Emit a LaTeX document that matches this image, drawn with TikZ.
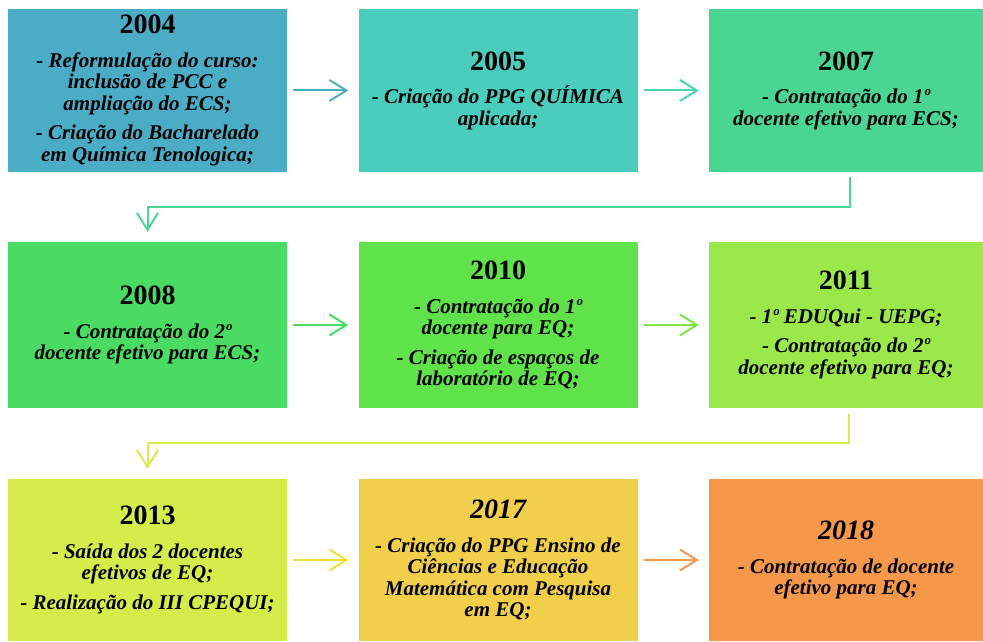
\documentclass[tikz,border=0pt]{standalone}
\usepackage{fontspec}
\setmainfont{Liberation Serif}
\usetikzlibrary{arrows.meta}

\begin{document}
\begin{tikzpicture}[x=1pt, y=1pt,
    card/.style={rectangle, minimum width=279pt, inner sep=0pt,
        text width=274pt, align=flush center,
        font=\bfseries\itshape\fontsize{21}{21.5}\selectfont},
    link/.style={line width=2pt, -{Straight Barb[length=17pt, width=21pt]}}
]
    % Definitions
    \definecolor{tone-2004}{RGB}{75, 172, 198}
    \definecolor{tone-2005}{RGB}{75, 205, 190}
    \definecolor{tone-2007}{RGB}{74, 214, 146}
    \definecolor{tone-2008}{RGB}{74, 220, 98}
    \definecolor{tone-2010}{RGB}{96, 226, 74}
    \definecolor{tone-2011}{RGB}{155, 232, 74}
    \definecolor{tone-2013}{RGB}{213, 236, 74}
    \definecolor{tone-2017}{RGB}{242, 207, 74}
    \definecolor{tone-2018}{RGB}{246, 152, 74}

    \newcommand{\yearup}[1]{{\upshape\fontsize{28}{30}\selectfont #1}}
    \newcommand{\yearit}[1]{{\fontsize{28}{30}\selectfont #1}}

    \useasboundingbox (0,0) rectangle (983,641);

    % Row 1
    \node[card, fill=tone-2004, minimum height=163pt] (y2004)
        at (147.5,550.5) {\yearup{2004}\\[12pt]
        - Reformulação do curso:\\ inclusão de PCC e\\ ampliação do ECS;\\[8pt]
        - Criação do Bacharelado\\ em Química Tenologica;};
    \node[card, fill=tone-2005, minimum height=163pt] (y2005)
        at (498,550.5) {\yearup{2005}\\[12pt]
        - Criação do PPG QUÍMICA\\ aplicada;};
    \node[card, fill=tone-2007, minimum width=274pt,
          minimum height=163pt] (y2007)
        at (846,550.5) {\yearup{2007}\\[12pt]
        - Contratação do 1º\\ docente efetivo para ECS;};

    % Row 2
    \node[card, fill=tone-2008, minimum height=166pt] (y2008)
        at (147.5,316) {\yearup{2008}\\[12pt]
        - Contratação do 2º\\ docente efetivo para ECS;};
    \node[card, fill=tone-2010, minimum height=166pt] (y2010)
        at (498,316) {\yearup{2010}\\[12pt]
        - Contratação do 1º\\ docente para EQ;\\[8pt]
        - Criação de espaços de\\ laboratório de EQ;};
    \node[card, fill=tone-2011, minimum width=274pt,
          minimum height=166pt] (y2011)
        at (846,316) {\yearup{2011}\\[12pt]
        - 1º EDUQui - UEPG;\\[8pt]
        - Contratação do 2º\\ docente efetivo para EQ;};

    % Row 3
    \node[card, fill=tone-2013, minimum height=162pt] (y2013)
        at (147.5,81) {\yearup{2013}\\[12pt]
        - Saída dos 2 docentes\\ efetivos de EQ;\\[8pt]
        - Realização do III CPEQUI;};
    \node[card, fill=tone-2017, minimum height=162pt] (y2017)
        at (498,81) {\yearit{2017}\\[12pt]
        - Criação do PPG Ensino de\\ Ciências e Educação\\
        Matemática com Pesquisa\\ em EQ;};
    \node[card, fill=tone-2018, minimum width=274pt,
          minimum height=162pt] (y2018)
        at (846,81) {\yearit{2018}\\[12pt]
        - Contratação de docente\\ efetivo para EQ;};

    % Arrows
    \draw[link, tone-2004] ([xshift=6pt]y2004.east) -- ([xshift=-10pt]y2005.west);
    \draw[link, tone-2005!80!tone-2007] ([xshift=6pt]y2005.east) -- ([xshift=-10pt]y2007.west);
    \draw[link, tone-2007] ([xshift=4pt, yshift=-5pt]y2007.south) -- ++(0,-30)
        -| ([yshift=10pt]y2008.north);
    \draw[link, tone-2008] ([xshift=6pt]y2008.east) -- ([xshift=-10pt]y2010.west);
    \draw[link, tone-2010!50!tone-2011] ([xshift=6pt]y2010.east) -- ([xshift=-10pt]y2011.west);
    \draw[link, tone-2013] ([xshift=3pt, yshift=-6pt]y2011.south) -- ++(0,-29)
        -| ([yshift=10pt]y2013.north);
    \draw[link, tone-2017!70!yellow] ([xshift=6pt]y2013.east) -- ([xshift=-10pt]y2017.west);
    \draw[link, tone-2018] ([xshift=6pt]y2017.east) -- ([xshift=-10pt]y2018.west);
\end{tikzpicture}
\end{document}
